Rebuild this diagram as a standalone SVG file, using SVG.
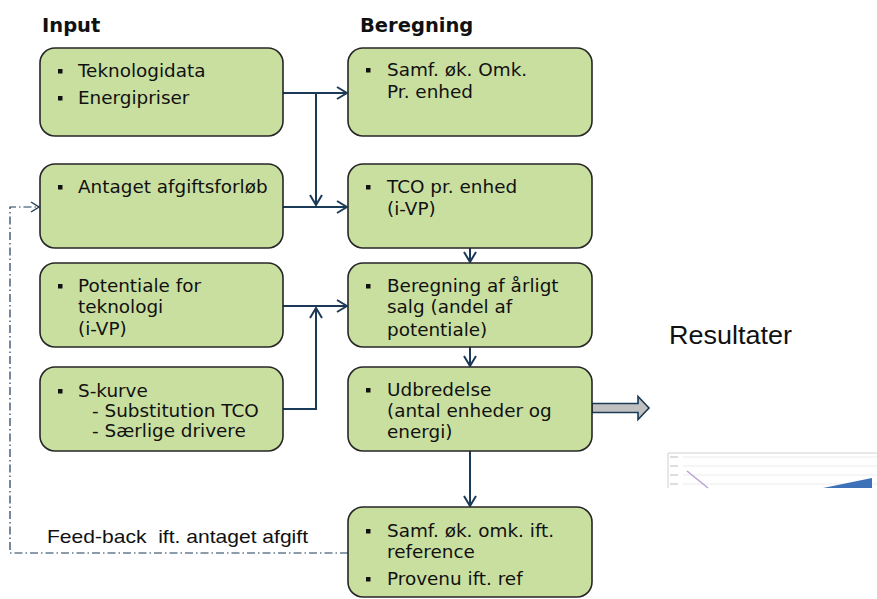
<svg xmlns="http://www.w3.org/2000/svg" width="877" height="599" viewBox="0 0 877 599">
<style>
.box{fill:#c9dfa0;stroke:#262626;stroke-width:1.6}
.t{font-family:"DejaVu Sans",Verdana,sans-serif;font-size:18.4px;fill:#111}
.h{font-family:"DejaVu Sans",Verdana,sans-serif;font-size:19.5px;font-weight:bold;fill:#111}
.b{fill:#111}
.c{fill:none;stroke:#1b3a57;stroke-width:2}
.fb{fill:none;stroke:#1b3a57;stroke-width:1.2;stroke-dasharray:8 3 1.5 3}
</style>
<defs>
<marker id="ah" viewBox="0 0 12 14" refX="11" refY="7" markerWidth="12" markerHeight="14" markerUnits="userSpaceOnUse" orient="auto">
<path d="M1,1 L11,7 L1,13" fill="none" stroke="#1b3a57" stroke-width="2"/>
</marker>
<marker id="ahs" viewBox="0 0 10 12" refX="9" refY="6" markerWidth="10" markerHeight="12" markerUnits="userSpaceOnUse" orient="auto">
<path d="M1,1 L9,6 L1,11" fill="none" stroke="#1b3a57" stroke-width="1.3"/>
</marker>
</defs>
<rect width="877" height="599" fill="#fff"/>
<text class="h" x="42" y="32">Input</text>
<text class="h" x="360" y="32">Beregning</text>

<g id="connectors">
<path class="c" d="M283,93 H347" marker-end="url(#ah)"/>
<path class="c" d="M316,93 V205" marker-end="url(#ah)"/>
<path class="c" d="M283,207 H347" marker-end="url(#ah)"/>
<path class="c" d="M283,306 H347" marker-end="url(#ah)"/>
<path class="c" d="M283,409 H316 V308" marker-end="url(#ah)"/>
<path class="c" d="M470,248 V262" marker-end="url(#ah)"/>
<path class="c" d="M470,347 V366" marker-end="url(#ah)"/>
<path class="c" d="M470,451 V506" marker-end="url(#ah)"/>
<path class="fb" d="M348,553 H10 V207 H39" marker-end="url(#ahs)"/>
<path d="M592,403.5 H638 V396.5 L649,408 L638,419.5 V412.5 H592 Z" fill="#c0c0c0" stroke="#1b3a57" stroke-width="1.6"/>
</g>

<g id="n-tek">
<rect class="box" x="40" y="48" width="243" height="88" rx="15"/>
<rect class="b" x="58" y="69" width="4.5" height="4.5"/>
<rect class="b" x="58" y="96" width="4.5" height="4.5"/>
<text class="t" x="78" y="77">Teknologidata</text>
<text class="t" x="78" y="104">Energipriser</text>
</g>
<g id="n-afg">
<rect class="box" x="40" y="164" width="243" height="84" rx="15"/>
<rect class="b" x="58" y="185" width="4.5" height="4.5"/>
<text class="t" x="78" y="193">Antaget afgiftsforløb</text>
</g>
<g id="n-pot">
<rect class="box" x="40" y="263" width="243" height="84" rx="15"/>
<rect class="b" x="58" y="284" width="4.5" height="4.5"/>
<text class="t" x="78" y="292">Potentiale for</text>
<text class="t" x="78" y="313">teknologi</text>
<text class="t" x="78" y="335">(i-VP)</text>
</g>
<g id="n-skurve">
<rect class="box" x="40" y="367" width="243" height="84" rx="15"/>
<rect class="b" x="58" y="389" width="4.5" height="4.5"/>
<text class="t" x="78" y="397">S-kurve</text>
<text class="t" x="92" y="417">- Substitution TCO</text>
<text class="t" x="92" y="437">- Særlige drivere</text>
</g>

<g id="n-samf">
<rect class="box" x="348" y="48" width="244" height="88" rx="15"/>
<rect class="b" x="366" y="68" width="4.5" height="4.5"/>
<text class="t" x="387" y="76">Samf. øk. Omk.</text>
<text class="t" x="387" y="98">Pr. enhed</text>
</g>
<g id="n-tco">
<rect class="box" x="348" y="164" width="244" height="84" rx="15"/>
<rect class="b" x="366" y="185" width="4.5" height="4.5"/>
<text class="t" x="387" y="193">TCO pr. enhed</text>
<text class="t" x="387" y="215">(i-VP)</text>
</g>
<g id="n-salg">
<rect class="box" x="348" y="263" width="244" height="84" rx="15"/>
<rect class="b" x="366" y="284" width="4.5" height="4.5"/>
<text class="t" x="387" y="292">Beregning af årligt</text>
<text class="t" x="387" y="313">salg (andel af</text>
<text class="t" x="387" y="336">potentiale)</text>
</g>
<g id="n-udb">
<rect class="box" x="348" y="367" width="244" height="84" rx="15"/>
<rect class="b" x="366" y="388" width="4.5" height="4.5"/>
<text class="t" x="387" y="396">Udbredelse</text>
<text class="t" x="387" y="417">(antal enheder og</text>
<text class="t" x="387" y="438">energi)</text>
</g>
<g id="n-ref">
<rect class="box" x="348" y="507" width="244" height="90" rx="15"/>
<rect class="b" x="366" y="529" width="4.5" height="4.5"/>
<rect class="b" x="366" y="577" width="4.5" height="4.5"/>
<text class="t" x="387" y="537">Samf. øk. omk. ift.</text>
<text class="t" x="387" y="558">reference</text>
<text class="t" x="387" y="585">Provenu ift. ref</text>
</g>

<text x="47" y="543" font-family="'Liberation Sans',Arial,sans-serif" font-size="19" fill="#111" textLength="261" lengthAdjust="spacingAndGlyphs" xml:space="preserve">Feed-back  ift. antaget afgift</text>
<text x="669" y="344" font-family="'Liberation Sans',Arial,sans-serif" font-size="25" fill="#111" textLength="123" lengthAdjust="spacingAndGlyphs">Resultater</text>

<g id="chart">
<path d="M668,488 V453 H877" fill="none" stroke="#d0d0d0" stroke-width="1"/>
<path d="M683,457 H877 M683,466 H877 M683,475 H877 M683,484 H877" stroke="#ececec" stroke-width="1"/>
<path d="M670,457 H678 M670,466 H678 M670,475 H678 M670,484 H678" stroke="#bbbbbb" stroke-width="1.2"/>
<path d="M687,471 L708,488" stroke="#b9a3d6" stroke-width="1.6"/>
<path d="M823,488 L872,478 V488 Z" fill="#3d72b8"/>
</g>
</svg>
